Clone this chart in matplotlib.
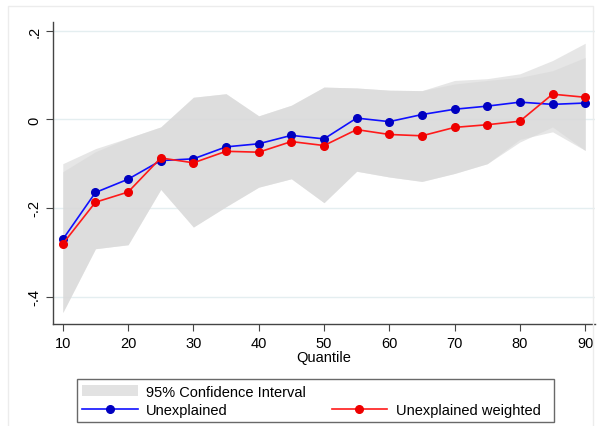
import matplotlib.pyplot as plt
from matplotlib.patches import Patch, Rectangle
from matplotlib.lines import Line2D

plt.rcParams['font.family'] = ['Liberation Sans', 'DejaVu Sans']

# quantiles and estimates
quantile = [10, 15, 20, 25, 30, 35, 40, 45, 50, 55, 60, 65, 70, 75, 80, 85, 90]
unexplained = [-0.271, -0.165, -0.135, -0.093, -0.089, -0.062, -0.055, -0.036, -0.044,
               0.003, -0.005, 0.011, 0.023, 0.030, 0.039, 0.034, 0.037]
unexplained_w = [-0.281, -0.187, -0.164, -0.087, -0.098, -0.072, -0.074, -0.050, -0.059,
                 -0.023, -0.034, -0.037, -0.018, -0.012, -0.004, 0.057, 0.050]

# two confidence bands (they overlap almost everywhere)
ci1_hi = [-0.100, -0.066, -0.042, -0.017, 0.050, 0.058, 0.008, 0.032, 0.073,
          0.071, 0.066, 0.065, 0.088, 0.092, 0.103, 0.133, 0.172]
ci1_lo = [-0.436, -0.292, -0.283, -0.158, -0.243, -0.197, -0.153, -0.134, -0.188,
          -0.117, -0.130, -0.140, -0.122, -0.100, -0.051, -0.017, -0.070]
ci2_hi = [-0.118, -0.073, -0.042, -0.017, 0.050, 0.058, 0.008, 0.032, 0.073,
          0.071, 0.066, 0.065, 0.080, 0.088, 0.095, 0.110, 0.140]
ci2_lo = [-0.436, -0.292, -0.283, -0.158, -0.243, -0.197, -0.153, -0.134, -0.188,
          -0.117, -0.130, -0.140, -0.122, -0.100, -0.045, -0.028, -0.070]

yticks = [-0.4, -0.2, 0, 0.2]
ytick_labels = ['-.4', '-.2', '0', '.2']
xticks = [10, 20, 30, 40, 50, 60, 70, 80, 90]

fig = plt.figure(figsize=(6, 4.27), dpi=100)
fig.patches.append(Rectangle((8 / 600, -0.01), 585 / 600, 1 - 7 / 427 + 0.01,
                             transform=fig.transFigure, fill=False,
                             edgecolor='#ececec', lw=1))
ax = fig.add_axes([53 / 600, 1 - 325 / 427, 542 / 600, 302 / 427])

band = '#d9d9d9'
ax.fill_between(quantile, ci1_lo, ci1_hi, color=band, alpha=0.65, lw=0)
ax.fill_between(quantile, ci2_lo, ci2_hi, color=band, alpha=0.65, lw=0)

ax.plot(quantile, unexplained, color='#1010ff', lw=1.2, marker='o', ms=5.5,
        mfc='#0000c0', mec='#0000c0')
ax.plot(quantile, unexplained_w, color='#ff1a1a', lw=1.2, marker='o', ms=5.5,
        mfc='#ee0000', mec='#ee0000')

ax.set_xlim(8.5, 91.5)
ax.set_ylim(-0.462, 0.22)
ax.set_yticks(yticks)
ax.set_yticklabels(ytick_labels, rotation=90, va='center')
ax.set_xticks(xticks)
ax.tick_params(labelsize=10.5, length=5, width=0.8, color='#444444')
ax.grid(axis='y', color='#e4eef0', lw=1)
ax.set_axisbelow(True)
for s in ['top', 'right']:
    ax.spines[s].set_visible(False)
for s in ['left', 'bottom']:
    ax.spines[s].set_color('#444444')
    ax.spines[s].set_linewidth(1)
ax.set_xlabel('Quantile', fontsize=10.5, labelpad=0)

handles = [Patch(facecolor='#e2e2e2', edgecolor='none'),
           Line2D([], [], color='#1010ff', lw=1.2, marker='o', ms=5.5,
                  mfc='#0000c0', mec='#0000c0'),
           Patch(facecolor='none', edgecolor='none'),
           Line2D([], [], color='#ff1a1a', lw=1.2, marker='o', ms=5.5,
                  mfc='#ee0000', mec='#ee0000')]
labels = ['95% Confidence Interval', 'Unexplained', '', 'Unexplained weighted  ']
leg = fig.legend(handles, labels, ncol=2, loc='lower left',
                 bbox_to_anchor=(77 / 600, 4 / 427, 477 / 600, 49 / 427),
                 mode='expand', fontsize=10.5, handlelength=3.8, handletextpad=0.6,
                 borderaxespad=0, labelspacing=0.3, fancybox=False,
                 frameon=True, edgecolor='#444444', borderpad=0.35)
leg.get_frame().set_linewidth(1)

fig.savefig('out.png', dpi=100, facecolor='white')
